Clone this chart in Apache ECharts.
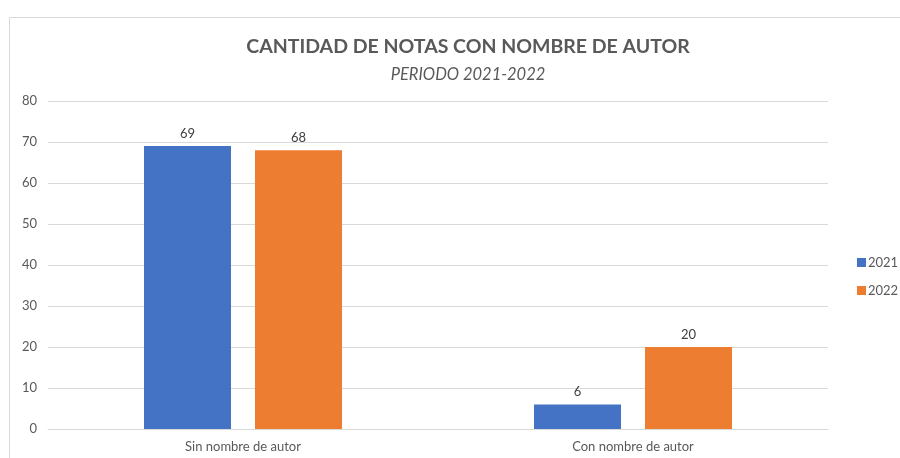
<!DOCTYPE html>
<html>
<head>
<meta charset="utf-8">
<script src="https://cdn.jsdelivr.net/npm/echarts@6/dist/echarts.min.js"></script>
<style>
  html, body { margin: 0; padding: 0; background: #fff; }
  #chart { width: 900px; height: 458px; }
</style>
</head>
<body>
<div id="chart"></div>
<script>
const categories = ['Sin nombre de autor', 'Con nombre de autor']
const years = ['2021', '2022']
const values2021 = [69, 6]
const values2022 = [68, 20]
const yTicks = { min: 0, max: 80, interval: 10 }

const chart = echarts.init(document.getElementById('chart'))
const font = 'Lato, "Open Sans", sans-serif'

const labelStyle = {
  show: true,
  position: 'top',
  distance: 6,
  color: '#404040',
  fontSize: 13,
  fontFamily: font,
}

chart.setOption({
  backgroundColor: '#fff',
  animation: false,
  title: {
    text: 'CANTIDAD DE NOTAS CON NOMBRE DE AUTOR',
    subtext: 'PERIODO 2021-2022',
    left: 463,
    textAlign: 'center',
    top: 32,
    itemGap: 9,
    textStyle: { color: '#595959', fontSize: 19.5, fontWeight: 'bold', fontFamily: font },
    subtextStyle: { color: '#595959', fontSize: 16.5, fontStyle: 'italic', fontFamily: font },
  },
  graphic: [
    {
      type: 'rect',
      shape: { x: 9.5, y: 17.5, width: 900, height: 460 },
      style: { fill: 'none', stroke: '#d9d9d9', lineWidth: 1 },
      silent: true,
    },
  ],
  legend: {
    orient: 'vertical',
    left: 852,
    top: 251,
    itemWidth: 9,
    itemHeight: 9,
    itemGap: 15,
    icon: 'rect',
    textStyle: { color: '#595959', fontSize: 13, fontFamily: font, padding: [0, 0, 0, -3] },
    data: years,
  },
  grid: { left: 48, right: 72, top: 101, bottom: 29 },
  xAxis: {
    type: 'category',
    data: categories,
    axisTick: { show: false },
    axisLine: { lineStyle: { color: '#d9d9d9' } },
    axisLabel: { color: '#595959', fontSize: 13, fontFamily: font, margin: 11 },
  },
  yAxis: {
    type: 'value',
    min: yTicks.min,
    max: yTicks.max,
    interval: yTicks.interval,
    axisLine: { show: false },
    axisTick: { show: false },
    splitLine: { lineStyle: { color: '#d9d9d9' } },
    axisLabel: { color: '#595959', fontSize: 13, fontFamily: font, margin: 11 },
  },
  series: [
    {
      name: years[0],
      type: 'bar',
      data: values2021,
      barWidth: 87,
      barGap: '27.6%',
      itemStyle: { color: '#4472c4' },
      label: labelStyle,
    },
    {
      name: years[1],
      type: 'bar',
      data: values2022,
      barWidth: 87,
      itemStyle: { color: '#ed7d31' },
      label: labelStyle,
    },
  ],
})
</script>
</body>
</html>
